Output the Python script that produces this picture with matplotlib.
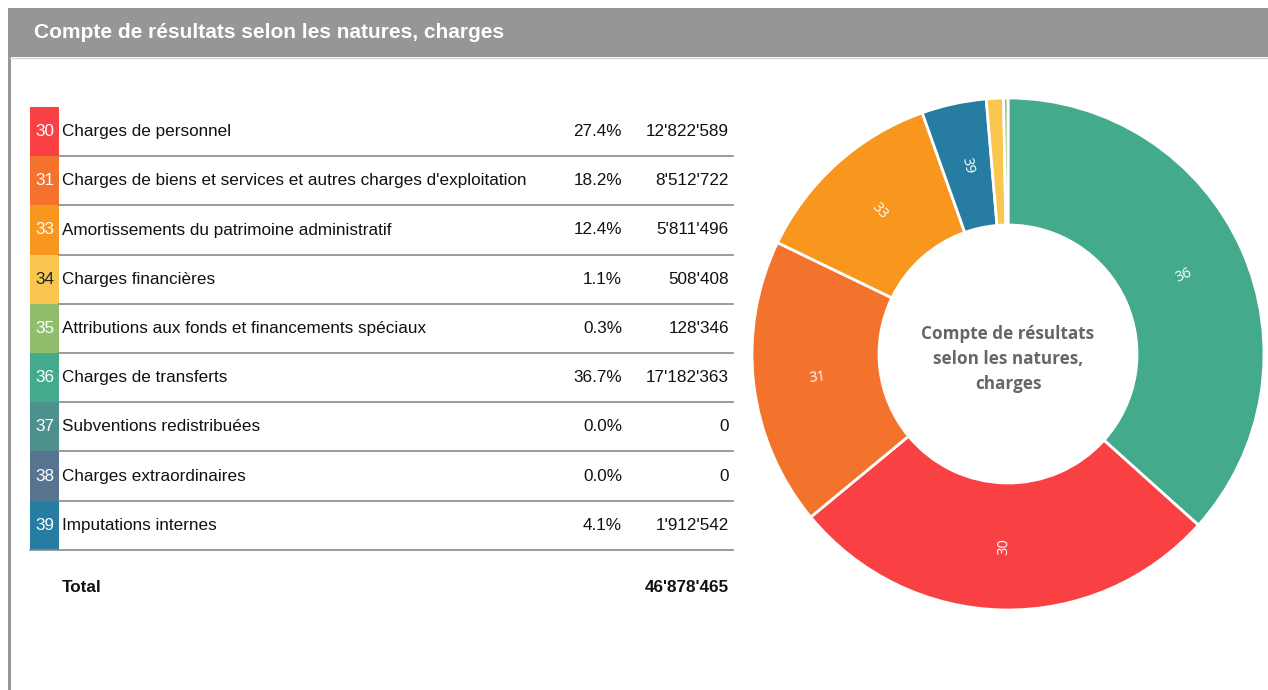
import matplotlib
matplotlib.use("Agg")
import matplotlib.pyplot as plt
from matplotlib.patches import Rectangle
import numpy as np

codes = ["30", "31", "33", "34", "35", "36", "37", "38", "39"]
labels = [
    "Charges de personnel",
    "Charges de biens et services et autres charges d'exploitation",
    "Amortissements du patrimoine administratif",
    "Charges financières",
    "Attributions aux fonds et financements spéciaux",
    "Charges de transferts",
    "Subventions redistribuées",
    "Charges extraordinaires",
    "Imputations internes",
]
values = [12822589, 8512722, 5811496, 508408, 128346, 17182363, 0, 0, 1912542]
total_value = 46878465
colors = ["#F94144", "#F3722C", "#F8961E", "#F9C74F", "#90BE6D",
          "#43AA8B", "#4D908E", "#577590", "#277DA1"]
code_text_colors = ["white", "white", "white", "#222222", "white",
                    "white", "white", "white", "white"]
title = "Compte de résultats selon les natures, charges"
center_title = "Compte de résultats\nselon les natures,\ncharges"


def fmt(v):
    return f"{v:,}".replace(",", "'")


W, H = 1268, 690
fig = plt.figure(figsize=(W / 100, H / 100), dpi=100)
ax = fig.add_axes([0, 0, 1, 1])
ax.set_xlim(0, W)
ax.set_ylim(H, 0)
ax.axis("off")

TF = ["Liberation Sans", "DejaVu Sans"]
FS = 12.3

# header
ax.add_patch(Rectangle((8, 8), W - 8, 49, facecolor="#969696", edgecolor="none"))
ax.plot([8.5, 8.5], [8, H], color="#969696", lw=2.2, solid_capstyle="butt")
ax.plot([10, W], [57.5, 57.5], color="#d8d8d8", lw=1)
ax.text(34, 32, title, color="white", fontsize=15, fontweight="bold",
        family=TF, va="center", ha="left")

# table
total = sum(values)
row_top = 107
row_h = 49.2
for i, (c, lab, v, col, tc) in enumerate(zip(codes, labels, values, colors, code_text_colors)):
    y0 = row_top + i * row_h
    yc = y0 + row_h / 2
    ax.add_patch(Rectangle((30, y0), 29, row_h, facecolor=col, edgecolor="none"))
    ax.text(44.5, yc, c, color=tc, fontsize=FS, family=TF, ha="center", va="center")
    ax.text(62, yc, lab, color="#111111", fontsize=FS, family=TF, ha="left", va="center")
    pct = 100.0 * v / total
    ax.text(622, yc, f"{pct:.1f}%", color="#111111", fontsize=FS, family=TF,
            ha="right", va="center")
    ax.text(729, yc, fmt(v), color="#111111", fontsize=FS, family=TF,
            ha="right", va="center")
    ax.plot([30 if i == len(codes) - 1 else 59, 733], [y0 + row_h, y0 + row_h],
            color="#8a8a8a", lw=1.2)

ax.text(62, 588, "Total", color="#111111", fontsize=FS, fontweight="bold",
        family=TF, ha="left", va="center")
ax.text(729, 588, fmt(total_value), color="#111111", fontsize=FS, fontweight="bold",
        family=TF, ha="right", va="center")

# donut
cx, cy = 1008, 354
R = 256
half = 262
dax = fig.add_axes([(cx - half) / W, (H - cy - half) / H, 2 * half / W, 2 * half / H])
order = sorted([i for i in range(len(values)) if values[i] > 0],
               key=lambda i: -values[i])
vals = [values[i] for i in order]
wedges, _ = dax.pie(vals, colors=[colors[i] for i in order], startangle=90,
                    counterclock=False, radius=R,
                    wedgeprops=dict(width=127, edgecolor="white", linewidth=2))
dax.set_xlim(-half, half)
dax.set_ylim(-half, half)
dax.set_aspect("equal")
dax.axis("off")

rmid = R - 127 / 2
for w, i in zip(wedges, order):
    frac = values[i] / total
    if frac < 0.02:
        continue
    ang = (w.theta1 + w.theta2) / 2
    rot = ((ang + 90) % 180) - 90
    x = rmid * np.cos(np.radians(ang))
    y = rmid * np.sin(np.radians(ang))
    dax.text(x, y, codes[i], color="white", fontsize=10.5, family=["Open Sans", "DejaVu Sans"],
             rotation=rot, rotation_mode="anchor", ha="center", va="center")

dax.text(0, -5, center_title, color="#666666", fontsize=12.3, fontweight="bold",
         family=["Open Sans", "DejaVu Sans"], ha="center", va="center", linespacing=1.5)

fig.savefig("out.png", dpi=100)
